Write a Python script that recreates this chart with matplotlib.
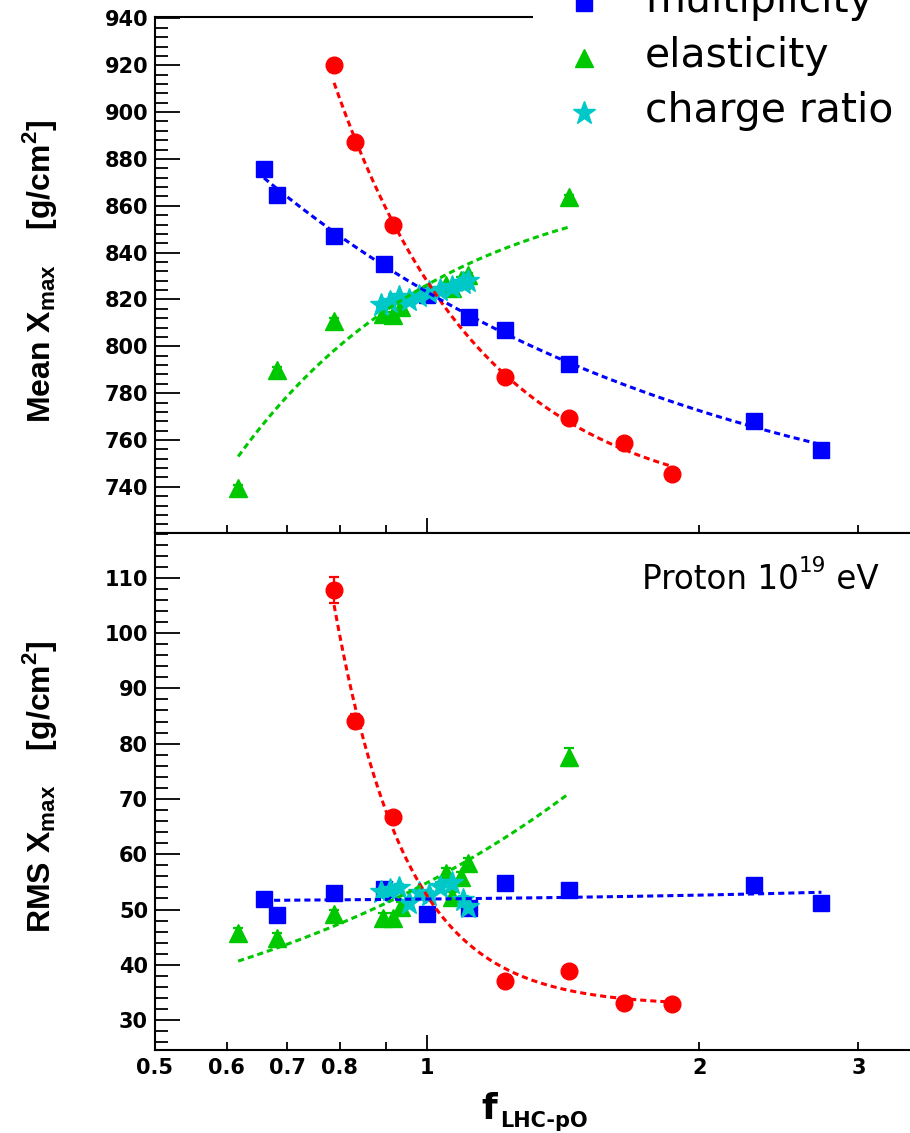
import numpy as np
import matplotlib
matplotlib.use("Agg")
import matplotlib.pyplot as plt
from matplotlib.lines import Line2D
from matplotlib.patches import Rectangle
from matplotlib.text import Annotation
from matplotlib.ticker import FixedLocator, FixedFormatter, MultipleLocator, NullFormatter

# ---------------------------------------------------------------------------
# Xmax response to a rescaling factor f of hadronic interaction features
# ---------------------------------------------------------------------------
f_xsec = [0.789, 0.832, 0.917, 1.219, 1.435, 1.652, 1.866]
mean_xsec = [920.0, 887.1, 851.6, 787.0, 769.5, 758.6, 745.6]
mean_xsec_err = [2.8, 1.5, 1.3, 1.0, 1.0, 1.0, 1.0]
rms_xsec = [107.8, 84.1, 66.7, 37.1, 38.9, 33.1, 32.9]
rms_xsec_err = [2.3, 1.3, 1.0, 0.6, 0.6, 0.5, 0.5]

f_mult = [0.660, 0.682, 0.789, 0.896, 1.0, 1.113, 1.219, 1.435, 2.30, 2.73]
mean_mult = [875.5, 864.4, 847.3, 835.3, 822.0, 812.7, 807.1, 792.6, 768.2, 755.8]
mean_mult_err = [1.0, 1.0, 1.0, 1.0, 1.0, 1.0, 1.0, 1.0, 1.0, 1.0]
rms_mult = [51.9, 49.0, 53.0, 53.7, 49.2, 50.3, 54.8, 53.5, 54.4, 51.2]
rms_mult_err = [0.8, 0.8, 0.8, 0.8, 0.8, 0.8, 0.8, 0.8, 0.8, 0.8]

f_elast = [0.618, 0.682, 0.789, 0.894, 0.917, 0.935, 1.05, 1.065, 1.09, 1.11, 1.435]
mean_elast = [739.6, 790.0, 811.0, 814.0, 813.5, 817.0, 826.0, 825.0, 828.5, 830.5, 863.6]
mean_elast_err = [1.0, 1.0, 1.0, 1.0, 1.0, 1.0, 1.0, 1.0, 1.0, 1.0, 1.0]
rms_elast = [45.7, 44.8, 49.2, 48.5, 48.5, 50.5, 56.6, 52.3, 55.9, 58.4, 77.6]
rms_elast_err = [0.9, 0.9, 0.8, 0.8, 0.8, 0.8, 0.9, 0.9, 0.9, 1.0, 1.6]

f_charge = [0.89, 0.909, 0.932, 0.956, 0.98, 1.006, 1.033, 1.065, 1.096, 1.11]
mean_charge = [817.8, 819.1, 821.2, 819.6, 821.4, 823.2, 824.2, 825.5, 827.0, 827.7]
mean_charge_err = [1.0, 1.0, 1.0, 1.0, 1.0, 1.0, 1.0, 1.0, 1.0, 1.0]
rms_charge = [53.2, 53.5, 53.9, 51.2, 53.0, 52.6, 54.1, 54.8, 51.7, 50.5]
rms_charge_err = [0.8, 0.8, 0.8, 0.8, 0.8, 0.8, 0.8, 0.8, 0.8, 0.8]

x_ticks = [0.5, 0.6, 0.7, 0.8, 0.9, 2, 3]
x_ticklabels = ["0.5", "0.6", "0.7", "0.8", "", "2", "3"]

RED, BLUE, GREEN, CYAN = "#ff0000", "#0000ff", "#00c800", "#00c8c8"

plt.rcParams["font.family"] = ["DejaVu Sans"]
plt.rcParams["font.weight"] = "bold"
plt.rcParams["axes.linewidth"] = 1.5


def fit_curve(f, y, err, model):
    """Least-squares fit: 'power' is a + b*f**c (error weighted), 'linear' is a + b*f."""
    f = np.asarray(f, float)
    y = np.asarray(y, float)
    if model == "power":
        w = 1.0 / np.asarray(err, float)
        exponents = np.arange(-8.0, 8.0, 0.01)
    else:
        w = np.ones_like(f)
        exponents = np.array([1.0])
    best = None
    for c in exponents:
        if abs(c) < 1e-6:
            continue
        A = np.column_stack([np.ones_like(f), f ** c]) * w[:, None]
        coef, *_ = np.linalg.lstsq(A, y * w, rcond=None)
        r = np.sum((A @ coef - y * w) ** 2)
        if best is None or r < best[0]:
            best = (r, c, coef)
    _, c, (a, b) = best
    return lambda x: a + b * np.asarray(x) ** c


def draw_series(ax, f, y, err, color, marker, ms, model=None):
    ax.errorbar(f, y, yerr=err, fmt=marker, color=color, mec=color, ms=ms,
                elinewidth=1.6, capsize=3.5, capthick=1.6, zorder=3)
    if model is not None:
        curve = fit_curve(f, y, err, model)
        xs = np.geomspace(min(f), max(f), 300)
        ax.plot(xs, curve(xs), color=color, lw=2.2, ls=(0, (2.0, 1.3)), zorder=4)


W, H = 910, 1133
fig = plt.figure(figsize=(W / 100, H / 100), dpi=100)
ax1 = fig.add_axes([155 / W, (H - 533) / H, 755 / W, 516 / H])
ax2 = fig.add_axes([155 / W, (H - 1050) / H, 755 / W, 517 / H])

XMAX = 0.5 * 10 ** (755 / 904)

for ax in (ax1, ax2):
    ax.set_xscale("log")
    ax.set_xlim(0.5, XMAX)
    ax.xaxis.set_major_locator(FixedLocator([1]))
    ax.xaxis.set_minor_locator(FixedLocator(x_ticks))
    ax.spines["right"].set_visible(False)
    ax.tick_params(axis="both", which="both", direction="in", top=False, right=False,
                   labelsize=15, width=1.3)
    ax.tick_params(axis="x", which="major", length=11, pad=6)
    ax.tick_params(axis="x", which="minor", length=5.5, pad=6)
    ax.tick_params(axis="y", which="major", length=18, pad=5)
    ax.tick_params(axis="y", which="minor", length=9)

ax1.xaxis.set_major_formatter(NullFormatter())
ax1.xaxis.set_minor_formatter(NullFormatter())
ax2.xaxis.set_major_formatter(FixedFormatter(["1"]))
ax2.xaxis.set_minor_formatter(FixedFormatter(x_ticklabels))

ax1.set_ylim(720.3, 940.6)
ax1.yaxis.set_major_locator(MultipleLocator(20))
ax1.yaxis.set_minor_locator(MultipleLocator(4))
ax2.set_ylim(24.6, 118.1)
ax2.yaxis.set_major_locator(MultipleLocator(10))
ax2.yaxis.set_minor_locator(MultipleLocator(2))

# mean Xmax
draw_series(ax1, f_xsec, mean_xsec, mean_xsec_err, RED, "o", 12, "power")
draw_series(ax1, f_mult, mean_mult, mean_mult_err, BLUE, "s", 11.8, "power")
draw_series(ax1, f_elast, mean_elast, mean_elast_err, GREEN, "^", 13, "power")
draw_series(ax1, f_charge, mean_charge, mean_charge_err, CYAN, "*", 17)

# RMS Xmax
draw_series(ax2, f_xsec, rms_xsec, rms_xsec_err, RED, "o", 12, "power")
draw_series(ax2, f_mult, rms_mult, rms_mult_err, BLUE, "s", 11.8, "linear")
draw_series(ax2, f_elast, rms_elast, rms_elast_err, GREEN, "^", 13, "linear")
draw_series(ax2, f_charge, rms_charge, rms_charge_err, CYAN, "*", 17)

# axis titles
plt.rcParams["mathtext.fontset"] = "custom"
plt.rcParams["mathtext.rm"] = "Liberation Sans"
plt.rcParams["mathtext.bf"] = "Liberation Sans:bold"
for ytxt, ypix in ((r"Mean X$_{\mathbf{max}}$    [g/cm$^{\mathbf{2}}$]", 271),
                   (r"RMS X$_{\mathbf{max}}$    [g/cm$^{\mathbf{2}}$]", 787)):
    fig.text(40 / W, 1 - ypix / H, ytxt, rotation=90, ha="center", va="center",
             fontsize=23, family="Liberation Sans", fontweight="bold",
             math_fontfamily="custom")

fig.text(481 / W, 1 - 1119 / H, "f", fontsize=26, fontweight="bold", va="baseline")
fig.text(500 / W, 1 - 1127 / H, "LHC-pO", fontsize=15, fontweight="bold", va="baseline")

# energy annotation, written in pieces to keep the superscript upright and regular
t_main = fig.text(642 / W, 1 - 589 / H, "Proton 10", fontsize=23.5,
                  fontweight="normal", va="baseline")
t_sup = fig.add_artist(Annotation("19", xy=(1.0, 0.62), xycoords=t_main, ha="left",
                                  va="bottom", fontsize=15.5, fontweight="normal"))
fig.add_artist(Annotation(" eV", xy=(1.0, 0.0), xycoords=(t_sup, t_main), ha="left",
                          va="bottom", fontsize=23.5, fontweight="normal"))

# legend block in the upper right corner
fig.add_artist(Rectangle((533 / W, (H - 140) / H), 1, 1, transform=fig.transFigure,
                         facecolor="white", edgecolor="none", zorder=10))
legend_rows = [("multiplicity", BLUE, "s", 11.8, 3, 12),
               ("elasticity", GREEN, "^", 13, 58, 67),
               ("charge ratio", CYAN, "*", 17, 113, 122)]
for text, color, marker, ms, ym, yb in legend_rows:
    fig.add_artist(Line2D([584 / W], [1 - ym / H], marker=marker, ms=ms, color=color,
                          mec=color, ls="none", transform=fig.transFigure, zorder=11))
    fig.text(645 / W, 1 - yb / H, text, fontsize=29.4, fontweight="normal",
             va="baseline", zorder=12)

fig.savefig("out.png", dpi=100)
